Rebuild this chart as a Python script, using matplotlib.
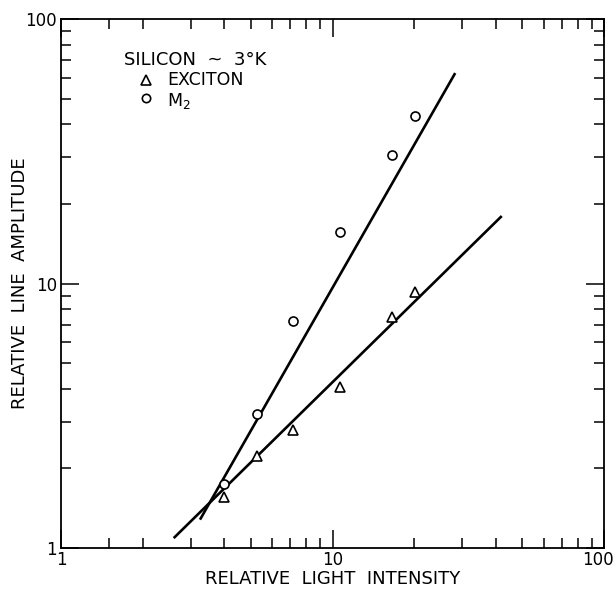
import matplotlib
matplotlib.use("Agg")
import matplotlib.pyplot as plt
import matplotlib.transforms as mtransforms
from matplotlib.ticker import FixedLocator, FixedFormatter, NullFormatter

# ---------------------------------------------------------
# 1. Data
# ---------------------------------------------------------
intensity = [4.0, 5.27, 7.15, 10.65, 16.5, 20.2]
exciton = [1.56, 2.23, 2.79, 4.07, 7.5, 9.3]
m2 = [1.74, 3.22, 7.2, 15.6, 30.5, 43.0]

# fitted straight lines (end points)
exciton_fit_x = [2.6, 42.0]
exciton_fit_y = [1.09, 18.0]
m2_fit_x = [3.25, 28.3]
m2_fit_y = [1.28, 62.5]

major_ticks = [1, 10, 100]
major_labels = ["1", "10", "100"]
x_minor = [1.5, 2, 3, 4, 5, 6, 7, 8, 9, 20, 30, 40, 50, 60, 70, 80, 90]
y_minor = [2, 3, 4, 5, 6, 7, 8, 9, 20, 30, 40, 50, 60, 70, 80, 90]

# ---------------------------------------------------------
# 2. Figure
# ---------------------------------------------------------
plt.rcParams['font.family'] = ['DejaVu Sans']
fig = plt.figure(figsize=(6.15, 5.89), dpi=100)
ax = fig.add_axes([0.0992, 0.0696, 0.883, 0.898])

ax.plot(exciton_fit_x, exciton_fit_y, color='black', lw=1.9, solid_capstyle='butt')
ax.plot(m2_fit_x, m2_fit_y, color='black', lw=1.9, solid_capstyle='butt')
ax.plot(intensity, exciton, linestyle='none', marker='^', ms=7, mfc='white',
        mec='black', mew=1.2)
ax.plot(intensity, m2, linestyle='none', marker='o', ms=6.5, mfc='white',
        mec='black', mew=1.2)

ax.set_xscale('log')
ax.set_yscale('log')
ax.set_xlim(1, 100)
ax.set_ylim(1, 100)

# ticks: inward on every side, long ticks at the decades
for axis, minor in [(ax.xaxis, x_minor), (ax.yaxis, y_minor)]:
    axis.set_major_locator(FixedLocator(major_ticks))
    axis.set_major_formatter(FixedFormatter(major_labels))
    axis.set_minor_locator(FixedLocator(minor))
    axis.set_minor_formatter(NullFormatter())

ax.tick_params(which='both', direction='in', top=True, right=True, width=1.1,
               labelsize=12, colors='black')
ax.tick_params(which='major', length=13, pad=3)
ax.tick_params(which='minor', length=7)
ax.tick_params(axis='x', which='major', pad=2)
for s in ax.spines.values():
    s.set_linewidth(1.3)

# nudge the "100" on the x axis a little left so it stays on the page
fig.canvas.draw()
last = ax.get_xticklabels()[-1]
last.set_transform(last.get_transform() +
                   mtransforms.ScaledTranslation(-6 / 100, 0, fig.dpi_scale_trans))

ax.set_xlabel("RELATIVE  LIGHT  INTENSITY", fontsize=13, labelpad=1)
ax.set_ylabel("RELATIVE  LINE  AMPLITUDE", fontsize=13, labelpad=-3)

# legend written as text, like the original drawing
ax.text(0.116, 0.9225, "SILICON  ~  3°K", transform=ax.transAxes, fontsize=13,
        va='center', ha='left')
ax.plot([0.1565], [0.885], transform=ax.transAxes, marker='^', ms=6.5,
        mfc='white', mec='black', mew=1.2, linestyle='none')
ax.text(0.195, 0.885, "EXCITON", transform=ax.transAxes, fontsize=12.5,
        va='center', ha='left')
ax.plot([0.1565], [0.851], transform=ax.transAxes, marker='o', ms=6,
        mfc='white', mec='black', mew=1.2, linestyle='none')
ax.text(0.195, 0.845, "M$_2$", transform=ax.transAxes, fontsize=12.5,
        va='center', ha='left')

fig.savefig("out.png", dpi=100)
plt.close()
